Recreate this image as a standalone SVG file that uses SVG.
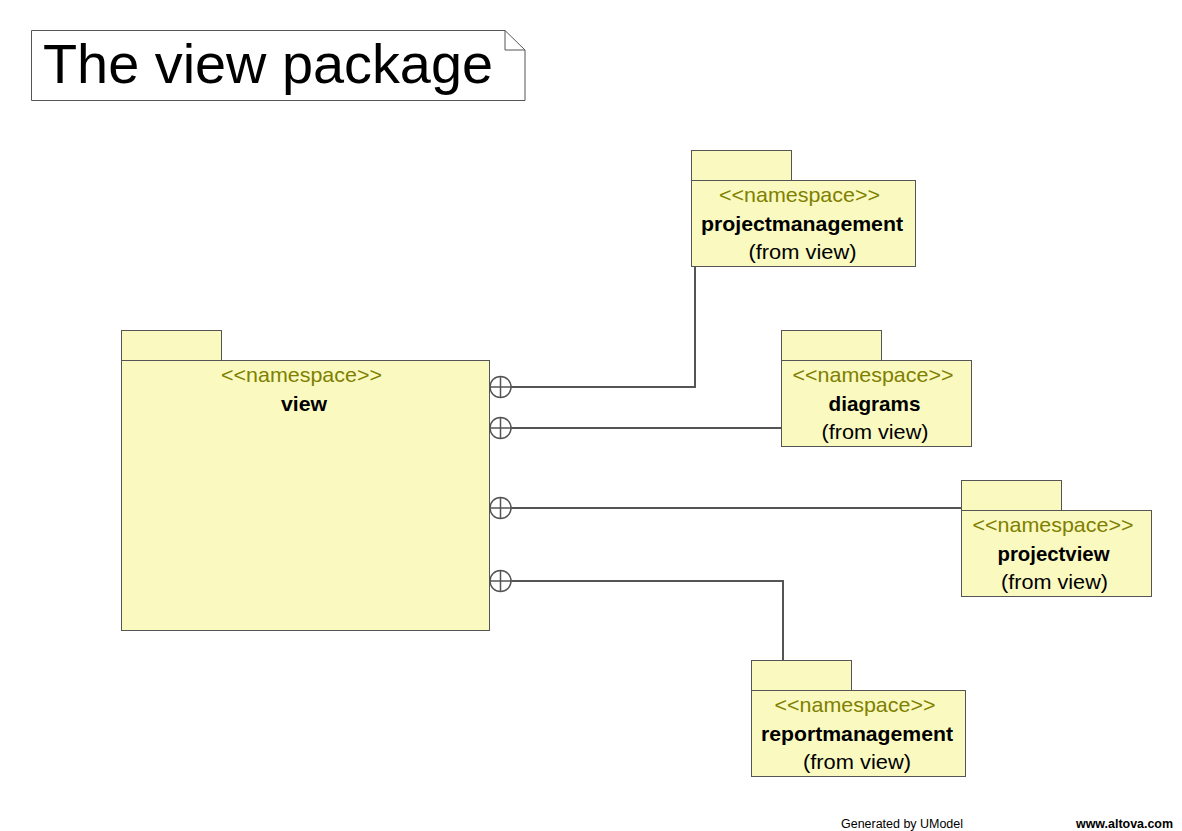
<svg xmlns="http://www.w3.org/2000/svg" width="1182" height="831" viewBox="0 0 1182 831">
<style>
.pk{fill:#F9F9C0;stroke:#555555;stroke-width:1}
text{font-family:"Liberation Sans",Arial,sans-serif}
.st{font-size:21px;fill:#808000;text-anchor:middle}
.nm{font-size:21px;font-weight:bold;fill:#000;text-anchor:middle}
.fr{font-size:21px;fill:#000;text-anchor:middle}
.cn{fill:none;stroke:#555555;stroke-width:2}
.ci{fill:#fff;stroke:#555555;stroke-width:1.5}
</style>
<rect width="1182" height="831" fill="#fff"/>
<g id="title">
<path d="M31.5,30.5 H505 L525,50 V100.5 H31.5 Z" fill="#fff" stroke="#555555"/>
<path d="M505,30.5 V50 H525" fill="none" stroke="#555555"/>
<text x="43" y="83" font-size="56" fill="#000" textLength="450" lengthAdjust="spacingAndGlyphs">The view package</text>
</g>
<g id="connectors">
<path class="cn" d="M511,387 H695 V266"/>
<path class="cn" d="M511,428 H781"/>
<path class="cn" d="M511,508 H961"/>
<path class="cn" d="M511,581 H783 V660"/>
<g class="ci">
<circle cx="500.5" cy="387" r="10.5"/>
<circle cx="500.5" cy="428" r="10.5"/>
<circle cx="500.5" cy="508" r="10.5"/>
<circle cx="500.5" cy="581" r="10.5"/>
</g>
<path d="M490,387 H511 M500.5,376.5 V397.5 M490,428 H511 M500.5,417.5 V438.5 M490,508 H511 M500.5,497.5 V518.5 M490,581 H511 M500.5,570.5 V591.5" stroke="#555555" stroke-width="1.5" fill="none"/>
</g>
<g id="view">
<rect class="pk" x="121.5" y="330.5" width="100" height="30"/>
<rect class="pk" x="121.5" y="360.5" width="368" height="270"/>
<text class="st" x="301.5" y="382" textLength="161" lengthAdjust="spacingAndGlyphs">&lt;&lt;namespace&gt;&gt;</text>
<text class="nm" x="304" y="411" textLength="46" lengthAdjust="spacingAndGlyphs">view</text>
</g>
<g id="projectmanagement">
<rect class="pk" x="691.5" y="150.5" width="100" height="30"/>
<rect class="pk" x="691.5" y="180.5" width="224" height="86"/>
<text class="st" x="799.5" y="202" textLength="161" lengthAdjust="spacingAndGlyphs">&lt;&lt;namespace&gt;&gt;</text>
<text class="nm" x="802" y="231" textLength="202" lengthAdjust="spacingAndGlyphs">projectmanagement</text>
<text class="fr" x="802.5" y="259" textLength="108" lengthAdjust="spacingAndGlyphs">(from view)</text>
</g>
<g id="diagrams">
<rect class="pk" x="781.5" y="330.5" width="100" height="30"/>
<rect class="pk" x="781.5" y="360.5" width="190" height="86"/>
<text class="st" x="873" y="382" textLength="161" lengthAdjust="spacingAndGlyphs">&lt;&lt;namespace&gt;&gt;</text>
<text class="nm" x="874.5" y="411" textLength="92" lengthAdjust="spacingAndGlyphs">diagrams</text>
<text class="fr" x="875" y="439" textLength="107" lengthAdjust="spacingAndGlyphs">(from view)</text>
</g>
<g id="projectview">
<rect class="pk" x="961.5" y="480.5" width="100" height="30"/>
<rect class="pk" x="961.5" y="510.5" width="190" height="86"/>
<text class="st" x="1053" y="532" textLength="161" lengthAdjust="spacingAndGlyphs">&lt;&lt;namespace&gt;&gt;</text>
<text class="nm" x="1053.5" y="561" textLength="112" lengthAdjust="spacingAndGlyphs">projectview</text>
<text class="fr" x="1054.5" y="589" textLength="107" lengthAdjust="spacingAndGlyphs">(from view)</text>
</g>
<g id="reportmanagement">
<rect class="pk" x="751.5" y="660.5" width="100" height="30"/>
<rect class="pk" x="751.5" y="690.5" width="214" height="86"/>
<text class="st" x="855" y="712" textLength="161" lengthAdjust="spacingAndGlyphs">&lt;&lt;namespace&gt;&gt;</text>
<text class="nm" x="857" y="741" textLength="192" lengthAdjust="spacingAndGlyphs">reportmanagement</text>
<text class="fr" x="857" y="769" textLength="108" lengthAdjust="spacingAndGlyphs">(from view)</text>
</g>
<g id="footer">
<text x="841" y="828" font-size="12.5" fill="#000" textLength="122" lengthAdjust="spacingAndGlyphs">Generated by UModel</text>
<text x="1076" y="828" font-size="12.5" font-weight="bold" fill="#000" textLength="97" lengthAdjust="spacingAndGlyphs">www.altova.com</text>
</g>
</svg>
